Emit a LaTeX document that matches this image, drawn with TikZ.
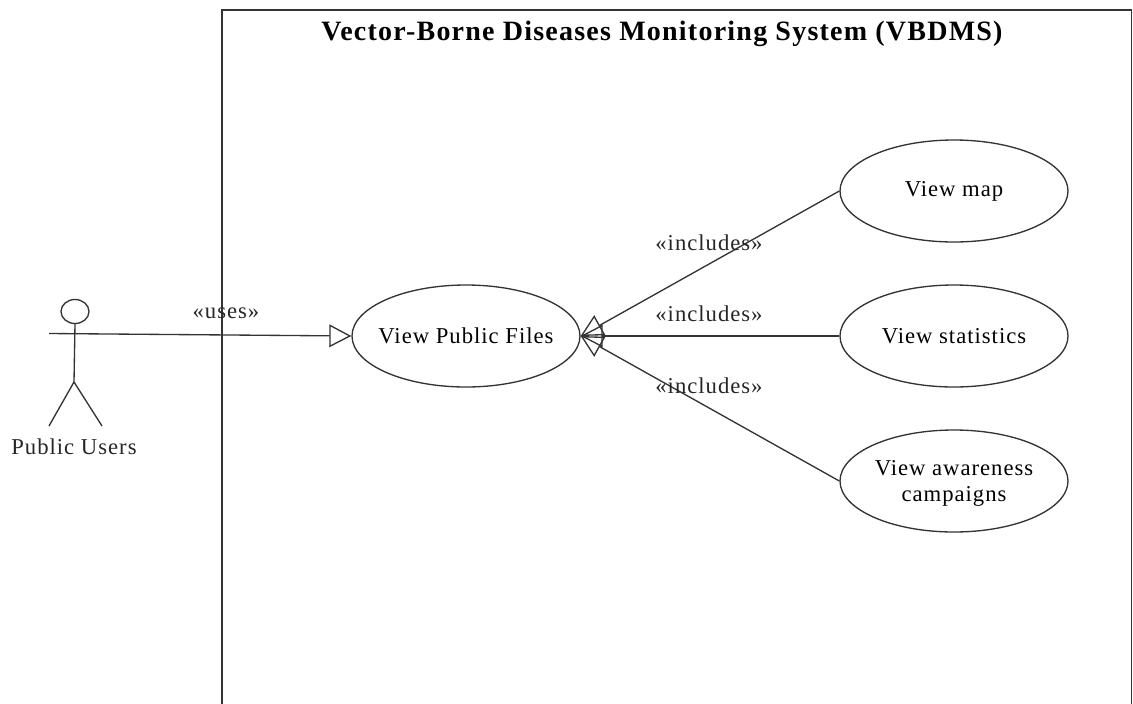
\documentclass[tikz,border=0pt]{standalone}
\usepackage{fontspec}
\setmainfont[LetterSpace=4.4]{Liberation Serif}
\usetikzlibrary{arrows.meta,shapes.geometric}
\definecolor{ink}{gray}{0.2}
\tikzset{
  px/.style={x=0.75pt,y=-0.75pt},
  usecase/.style={draw=ink,ellipse,line width=1pt,inner sep=0pt,minimum width=171pt,minimum height=76.5pt,align=center,font=\fontsize{17}{20}\selectfont},
  lbl/.style={font=\fontsize{17}{20}\selectfont,inner sep=0pt,text=black!85},
  line/.style={draw=ink,line width=1pt},
  gen/.style={line,-{Triangle[open,length=16.5pt,width=17pt,line width=1pt]}},
}
\begin{document}
\begin{tikzpicture}[px]
\useasboundingbox (0,0) rectangle (1133,704);
\node[usecase] (files) at (466,336) {\makebox[0pt][c]{View Public Files}};
\node[usecase] (map) at (954,191) {View map};
\node[usecase] (stats) at (954,336) {View statistics};
\node[usecase] (aware) at (954,481) {\rule{0pt}{15pt}View awareness\\campaigns};
\coordinate (bl) at (222,704);
\coordinate (tl) at (222,10);
\coordinate (tr) at (1131.5,10);
\coordinate (br) at (1131.5,704);
\draw[line,line width=1.2pt] (bl) -- (tl) -- (tr) -- (br);
\node[font=\bfseries\fontsize{21}{24}\selectfont,inner sep=0pt] (title) at (662,33.5) {Vector-Borne Diseases Monitoring System (VBDMS)};
\node[draw=ink,line width=1pt,ellipse,minimum width=21pt,minimum height=18pt,inner sep=0pt] (head) at (75,311.5) {};
\coordinate (hipL) at (49,333.5);
\coordinate (hip) at (74,382);
\coordinate (footL) at (49,426);
\coordinate (footR) at (102,426);
\draw[line] (head.south) -- (hip);
\draw[line] (hip) -- (footL);
\draw[line] (hip) -- (footR);
\draw[gen] (hipL) -- (files.west);
\node[lbl] (actor) at (74,447) {Public Users};
\node[lbl] (uses) at (226,313) {«uses»};
\draw[gen] (map.west) -- (files.east);
\draw[gen] (stats.west) -- (files.east);
\draw[gen] (aware.west) -- (files.east);
\node[lbl] (i1) at (709,243) {«includes»};
\node[lbl] (i2) at (709,314) {«includes»};
\node[lbl] (i3) at (709,386) {«includes»};
\end{tikzpicture}
\end{document}
